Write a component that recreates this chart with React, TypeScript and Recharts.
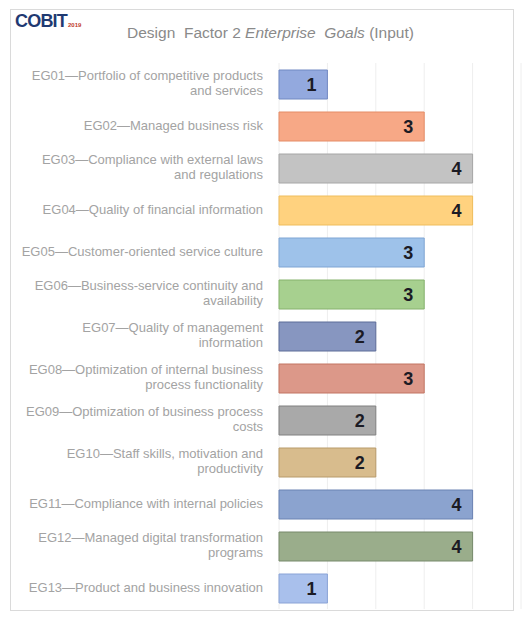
import { BarChart, Bar, XAxis, YAxis, CartesianGrid, Cell, LabelList } from 'recharts';

const goalCodes = ['EG01', 'EG02', 'EG03', 'EG04', 'EG05', 'EG06', 'EG07', 'EG08', 'EG09', 'EG10', 'EG11', 'EG12', 'EG13'];

// wrapped the way the original chart wraps them
const goalNames = [
    'Portfolio of competitive products\nand services',
    'Managed business risk',
    'Compliance with external laws\nand regulations',
    'Quality of financial information',
    'Customer-oriented service culture',
    'Business-service continuity and\navailability',
    'Quality of management\ninformation',
    'Optimization of internal business\nprocess functionality',
    'Optimization of business process\ncosts',
    'Staff skills, motivation and\nproductivity',
    'Compliance with internal policies',
    'Managed digital transformation\nprograms',
    'Product and business innovation',
];

const importance = [1, 3, 4, 4, 3, 3, 2, 3, 2, 2, 4, 4, 1];

const xTicks = [1, 2, 3, 4];

const barFills = ['#93a9de', '#f7a886', '#c3c3c3', '#ffd27f', '#9ec2ea', '#a7d08f', '#8796c0', '#dc9889', '#a9a9a9', '#d8bc8d', '#8ba3cf', '#9aad8b', '#a9c0ec'];
const barStrokes = ['#7189c2', '#e58c66', '#a6a6a6', '#efbd5c', '#7fa5d4', '#86b26d', '#5d6c98', '#c27463', '#808080', '#b89b6a', '#6a83b3', '#76896b', '#8aa3d6'];

const data = goalCodes.map((code, i) => ({
    label: `${code}\u2014${goalNames[i]}`,
    value: importance[i],
}));

const FONT = '"Liberation Sans", Arial, sans-serif';

function GoalTick({ x, y, payload }: any) {
    const lines = String(payload.value).split('\n');
    const lh = 15.5;
    const startY = y - ((lines.length - 1) * lh) / 2 - 1;
    return (
        <text x={x} y={startY} textAnchor="end" fill="#a3a3a3" fontSize={13} fontFamily={FONT}>
            {lines.map((ln, i) => (
                <tspan key={i} x={x} y={startY + i * lh} dy="0.35em">
                    {ln}
                </tspan>
            ))}
        </text>
    );
}

function ValueLabel({ x, y, width, height, value }: any) {
    return (
        <text
            x={x + width - 11}
            y={y + height / 2}
            dy="0.36em"
            textAnchor="end"
            fill="#1b1b24"
            fontSize={18}
            fontWeight="bold"
            fontFamily={FONT}
        >
            {value}
        </text>
    );
}

export default function App() {
    return (
        <div style={{ position: 'relative', width: 528, height: 621, background: '#fff', fontFamily: FONT }}>
            <style>{'body{margin:0}'}</style>
            <div
                style={{
                    position: 'absolute',
                    left: 10,
                    top: 9,
                    width: 504,
                    height: 602,
                    border: '1px solid #dadada',
                    boxSizing: 'border-box',
                }}
            />
            <div style={{ position: 'absolute', left: 15, top: 12, lineHeight: 1, whiteSpace: 'nowrap' }}>
                <span style={{ fontSize: 18, fontWeight: 'bold', color: '#1f3a72', letterSpacing: -0.8 }}>COBIT</span>
                <span style={{ fontSize: 6, color: '#c0392b', marginLeft: 1, fontWeight: 'bold' }}>2019</span>
            </div>
            <div
                style={{
                    position: 'absolute',
                    left: 0,
                    width: 541,
                    top: 25,
                    textAlign: 'center',
                    fontSize: 15.5,
                    color: '#8a8a8a',
                    whiteSpace: 'pre',
                    lineHeight: 1,
                }}
            >
                {'Design  Factor 2 '}
                <i>{'Enterprise  Goals'}</i>
                {' (Input)'}
            </div>
            <div style={{ position: 'absolute', left: 0, top: 0 }}>
                <BarChart
                    width={528}
                    height={621}
                    data={data}
                    layout="vertical"
                    margin={{ top: 63, right: 7, bottom: 12, left: 0 }}
                >
                    <CartesianGrid horizontal={false} stroke="#eeeeee" />
                    <XAxis type="number" domain={[0, 5]} ticks={xTicks} hide />
                    <YAxis
                        type="category"
                        dataKey="label"
                        width={279}
                        axisLine={false}
                        tickLine={false}
                        tickMargin={10}
                        interval={0}
                        tick={<GoalTick />}
                    />
                    <Bar dataKey="value" barSize={29} isAnimationActive={false}>
                        {data.map((d, i) => (
                            <Cell key={d.label} fill={barFills[i]} stroke={barStrokes[i]} strokeWidth={1} />
                        ))}
                        <LabelList dataKey="value" content={<ValueLabel />} />
                    </Bar>
                </BarChart>
            </div>
        </div>
    );
}
